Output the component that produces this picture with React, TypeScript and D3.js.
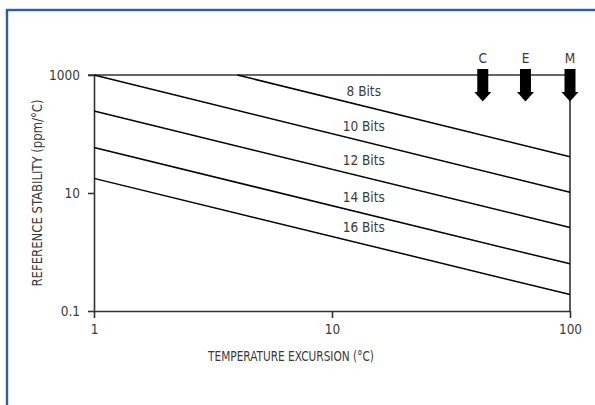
import React, { useEffect, useRef } from "react";
import { scaleLog, axisLeft, axisBottom, select, line } from "d3";

const width = 595;
const height = 405;

// plot box in pixels
const margin = { top: 75, right: 25, bottom: 94, left: 94 };

const fontFamily =
  "'Liberation Sans Narrow', 'DejaVu Sans Condensed', 'Roboto', sans-serif";
const axisColor = "#333";
const textColor = "#3a3a3a";
const frameColor = "#2f5ba8";
const fontSize = "13.5px";

// Data
const bitLabels = ["8 Bits", "10 Bits", "12 Bits", "14 Bits", "16 Bits"];
const startX = [4, 1, 1, 1, 1];
const startY = [1000, 1000, 245, 59, 17.7];
const endX = [100, 100, 100, 100, 100];
const endY = [41, 10.3, 2.6, 0.63, 0.19];
const labelX = 13.6;
const labelY = [536, 137, 36.2, 8.55, 2.65];

const rangeLabels = ["C", "E", "M"];
const rangeX = [43, 65, 100];

const xTicks = [1, 10, 100];
const yTicks = [0.1, 10, 1000];
const yTickLabels = ["0.1", "10", "1000"];

const xAxisLabel = "TEMPERATURE EXCURSION (°C)";
const yAxisLabel = "REFERENCE STABILITY (ppm/°C)";

const innerWidth = width - margin.left - margin.right;
const innerHeight = height - margin.top - margin.bottom;

const xScale = scaleLog().domain([1, 100]).range([0, innerWidth]);
const yScale = scaleLog().domain([0.1, 1000]).range([innerHeight, 0]);

const XAxis = () => {
  const ref = useRef<SVGGElement>(null);
  useEffect(() => {
    const g = select(ref.current);
    g.call(
      axisBottom(xScale)
        .tickValues(xTicks)
        .tickFormat((d) => String(d))
        .tickSizeInner(7)
        .tickSizeOuter(0)
        .tickPadding(6)
    );
    g.selectAll("path, line")
      .attr("stroke", axisColor)
      .attr("stroke-width", 1.6);
    g.selectAll("text")
      .attr("fill", textColor)
      .style("font-size", fontSize)
      .style("font-family", fontFamily);
  }, []);
  return <g ref={ref} transform={`translate(0,${innerHeight})`} />;
};

const YAxis = () => {
  const ref = useRef<SVGGElement>(null);
  useEffect(() => {
    const g = select(ref.current);
    g.call(
      axisLeft(yScale)
        .tickValues(yTicks)
        .tickFormat((d, i) => yTickLabels[i])
        .tickSizeInner(6)
        .tickSizeOuter(0)
        .tickPadding(8)
    );
    g.selectAll("path, line")
      .attr("stroke", axisColor)
      .attr("stroke-width", 1.6);
    g.selectAll("text")
      .attr("fill", textColor)
      .style("font-size", fontSize)
      .style("font-family", fontFamily);
  }, []);
  return <g ref={ref} />;
};

const lineGen = line<[number, number]>()
  .x((d) => xScale(d[0]))
  .y((d) => yScale(d[1]));

export default function App() {
  return (
    <svg
      width={width}
      height={height}
      style={{ position: "absolute", left: 0, top: 0, background: "#fff" }}
    >
      {/* blue frame, runs off the right and bottom edges */}
      <rect
        x={7}
        y={10}
        width={width + 20}
        height={height + 20}
        fill="none"
        stroke={frameColor}
        strokeWidth={2.4}
      />
      <g transform={`translate(${margin.left},${margin.top})`}>
        {/* top line at 1000 and right edge */}
        <line
          x1={-6}
          x2={innerWidth}
          y1={0}
          y2={0}
          stroke={axisColor}
          strokeWidth={1.6}
        />
        <line
          x1={innerWidth}
          x2={innerWidth}
          y1={0}
          y2={innerHeight}
          stroke={axisColor}
          strokeWidth={1.6}
        />
        <XAxis />
        <YAxis />

        {bitLabels.map((label, i) => (
          <g key={label}>
            <path
              d={
                lineGen([
                  [startX[i], startY[i]],
                  [endX[i], endY[i]],
                ]) || ""
              }
              fill="none"
              stroke="#000"
              strokeWidth={1.5}
            />
            <text
              x={xScale(labelX)}
              y={yScale(labelY[i])}
              dy="0.35em"
              textAnchor="middle"
              fill={textColor}
              style={{ fontSize, fontFamily }}
            >
              {label}
            </text>
          </g>
        ))}

        {rangeLabels.map((label, i) => {
          const cx = xScale(rangeX[i]);
          return (
            <g key={label}>
              <text
                x={cx}
                y={-17}
                dy="0.35em"
                textAnchor="middle"
                fill={textColor}
                style={{ fontSize, fontFamily }}
              >
                {label}
              </text>
              <rect x={cx - 5.5} y={-6} width={11} height={24} fill="#000" />
              <path
                d={`M${cx - 8.5},17 L${cx + 8.5},17 L${cx},26.5 Z`}
                fill="#000"
              />
            </g>
          );
        })}

        {/* axis titles squeezed to the narrow face of the original */}
        <text
          x={197}
          y={innerHeight + 45}
          dy="0.35em"
          textAnchor="middle"
          textLength={166}
          lengthAdjust="spacingAndGlyphs"
          fill={textColor}
          style={{ fontSize: "14px", fontFamily }}
        >
          {xAxisLabel}
        </text>
        <text
          transform={`translate(${-57},${yScale(10)}) rotate(-90)`}
          dy="0.35em"
          textAnchor="middle"
          textLength={187}
          lengthAdjust="spacingAndGlyphs"
          fill={textColor}
          style={{ fontSize: "14px", fontFamily }}
        >
          {yAxisLabel}
        </text>
      </g>
    </svg>
  );
}
